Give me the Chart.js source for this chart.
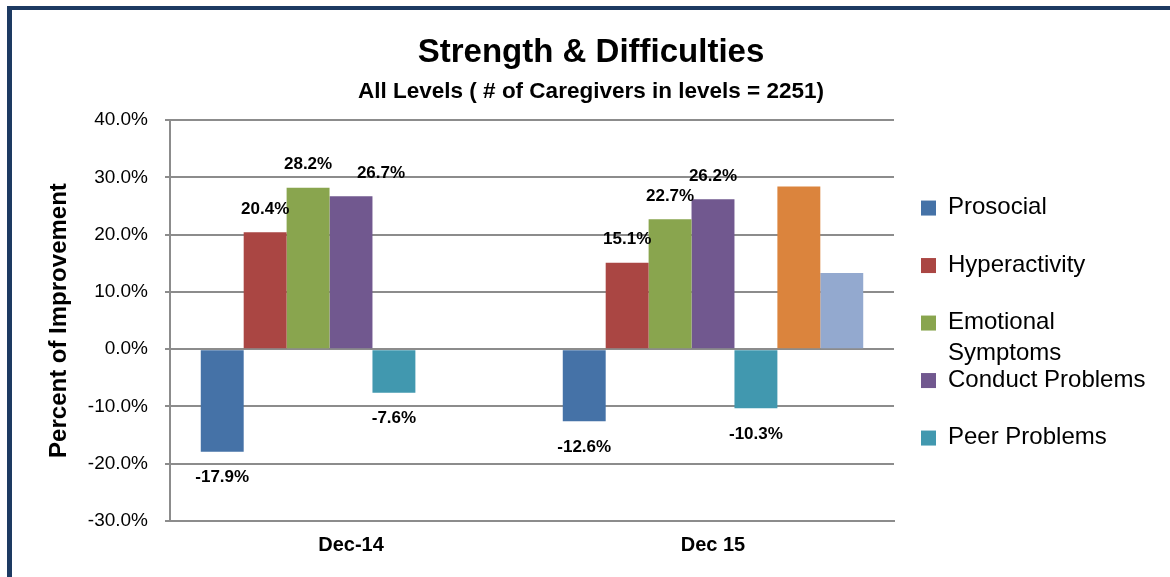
<!DOCTYPE html>
<html>
<head>
<meta charset="utf-8">
<title>Strength & Difficulties</title>
<script src="https://cdn.jsdelivr.net/npm/chart.js@4.4.1/dist/chart.umd.min.js"></script>
<style>
    html, body { margin: 0; padding: 0; background: #fff; }
    #wrap { position: relative; width: 1170px; height: 577px; overflow: hidden; }
    #frame {
        position: absolute; left: 7px; top: 6px; width: 1200px; height: 600px;
        border-left: 5px solid #1d3a62; border-top: 4px solid #1d3a62;
        pointer-events: none;
    }
</style>
</head>
<body>
<div id="wrap">
    <canvas id="sdqChart" width="1170" height="577"></canvas>
    <div id="frame"></div>
</div>
<script>
const periods = ['Dec-14', 'Dec 15'];

const seriesNames = ['Prosocial', 'Hyperactivity', 'Emotional Symptoms', 'Conduct Problems', 'Peer Problems', 'Series 6', 'Series 7'];
const prosocial = [-17.9, -12.6];
const hyperactivity = [20.4, 15.1];
const emotionalSymptoms = [28.2, 22.7];
const conductProblems = [26.7, 26.2];
const peerProblems = [-7.6, -10.3];
const series6 = [null, 28.4];
const series7 = [null, 13.3];

const yTicks = [-30, -20, -10, 0, 10, 20, 30, 40];

const seriesColors = ['#4572a7', '#aa4643', '#89a54e', '#71588f', '#4198af', '#db843d', '#93a9cf'];
const legendCount = 5;   // last two series have no legend entry / labels

const allValues = [prosocial, hyperactivity, emotionalSymptoms, conductProblems, peerProblems, series6, series7];

const FONT = "'Liberation Sans', Arial, sans-serif";

// value labels above / below the bars
const valueLabels = {
    id: 'valueLabels',
    afterDatasetsDraw(chart) {
        const ctx = chart.ctx;
        ctx.save();
        ctx.font = 'bold 17px ' + FONT;
        ctx.fillStyle = '#000';
        ctx.textAlign = 'center';
        ctx.textBaseline = 'middle';
        chart.data.datasets.forEach((ds, i) => {
            if (i >= legendCount) return;
            const meta = chart.getDatasetMeta(i);
            meta.data.forEach((bar, j) => {
                const v = ds.data[j];
                if (v === null || v === undefined) return;
                let x = bar.x;
                // Excel had this one label dragged to the right
                if (i === 3 && j === 0) x += 30;
                const y = v >= 0 ? bar.y - 23 : bar.y + 26;
                ctx.fillText(v.toFixed(1) + '%', x, y);
            });
        });
        ctx.restore();
    }
};

// legend on the right, with Excel-like wrapping
const sideLegend = {
    id: 'sideLegend',
    afterDraw(chart) {
        const ctx = chart.ctx;
        const area = chart.chartArea;
        const mid = (area.top + area.bottom) / 2;
        const step = 57.5;
        const boxX = area.right + 27;
        const textX = boxX + 27;
        const maxW = 205;
        ctx.save();
        ctx.font = '24px ' + FONT;
        ctx.textBaseline = 'middle';
        ctx.textAlign = 'left';
        for (let i = 0; i < legendCount; i++) {
            const y = mid + (i - 2) * step + 2;
            ctx.fillStyle = seriesColors[i];
            ctx.fillRect(boxX, y - 7, 15, 15);
            ctx.fillStyle = '#000';
            const name = seriesNames[i];
            if (ctx.measureText(name).width > maxW) {
                const words = name.split(' ');
                ctx.fillText(words[0], textX, y);
                ctx.fillText(words.slice(1).join(' '), textX, y + 31);
            } else {
                ctx.fillText(name, textX, y);
            }
        }
        ctx.restore();
    }
};

const ctx = document.getElementById('sdqChart').getContext('2d');

new Chart(ctx, {
    type: 'bar',
    data: {
        labels: periods,
        datasets: allValues.map((vals, i) => ({
            label: seriesNames[i],
            data: vals,
            backgroundColor: seriesColors[i],
            borderWidth: 0,
            categoryPercentage: 0.83,
            barPercentage: 1.0
        }))
    },
    options: {
        responsive: false,
        animation: false,
        layout: { padding: { left: 12, top: 0, right: 0, bottom: 0 } },
        plugins: {
            legend: { display: false },
            tooltip: { enabled: false },
            title: {
                display: true,
                text: 'Strength & Difficulties',
                color: '#000',
                font: { family: FONT, size: 33, weight: 'bold' },
                padding: { top: 33, bottom: 2 }
            },
            subtitle: {
                display: true,
                text: 'All Levels ( # of Caregivers in levels = 2251)',
                color: '#000',
                font: { family: FONT, size: 22.5, weight: 'bold' },
                padding: { top: 4, bottom: 14.5 }
            }
        },
        scales: {
            x: {
                grid: { display: false, drawTicks: false },
                border: { display: true, color: '#8c8c8c', width: 2 },
                ticks: {
                    color: '#000',
                    padding: 12,
                    font: { family: FONT, size: 20, weight: 'bold' }
                },
                afterFit(scale) { scale.height = 56; }
            },
            y: {
                min: -30,
                max: 40,
                afterBuildTicks(scale) {
                    scale.ticks = yTicks.map(v => ({ value: v }));
                },
                grid: { color: '#8c8c8c', lineWidth: 2, tickLength: 5 },
                border: { display: true, color: '#8c8c8c', width: 2 },
                ticks: {
                    color: '#000',
                    padding: 17,
                    font: { family: FONT, size: 19 },
                    callback: v => v.toFixed(1) + '%'
                },
                title: {
                    display: true,
                    text: 'Percent of Improvement',
                    color: '#000',
                    font: { family: FONT, size: 24, weight: 'bold' },
                    padding: { top: 33, bottom: 0 }
                },
                afterFit(scale) { scale.width = 158; }
            },
            legendSpace: {
                // invisible axis that reserves room for the legend on the right
                position: 'right',
                display: true,
                grid: { display: false, drawTicks: false },
                border: { display: false },
                ticks: { display: false },
                afterFit(scale) { scale.width = 276; }
            }
        }
    },
    plugins: [valueLabels, sideLegend]
});
</script>
</body>
</html>
